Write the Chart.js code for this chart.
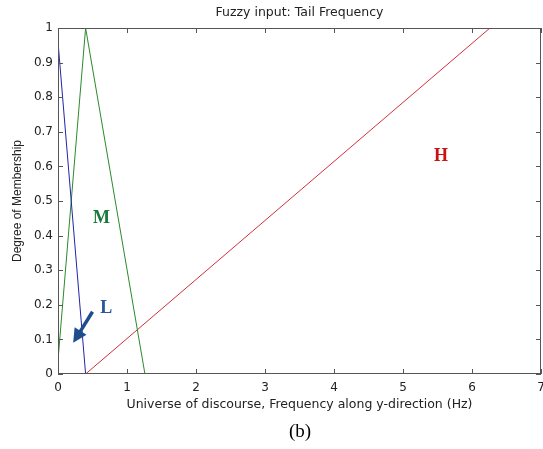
<!DOCTYPE html>
<html>
<head>
<meta charset="utf-8">
<script src="https://cdn.jsdelivr.net/npm/chart.js@4.4.1/dist/chart.umd.min.js"></script>
<style>
  html, body { margin: 0; padding: 0; background: #fff; }
  #wrap { position: relative; width: 543px; height: 449px; }
</style>
</head>
<body>
<div id="wrap"><canvas id="fuzzyChart" width="543" height="449"></canvas></div>
<script>
// membership functions (x in Hz, y = degree)
const lowX = [0, 0.4];
const lowY = [0.96, 0];
const medX = [0, 0.4, 1.26];
const medY = [0.04, 1, 0];
const highX = [0.4, 6.26];
const highY = [0, 1];

const xTicks = [0, 1, 2, 3, 4, 5, 6, 7];
const yTicks = [0, 0.1, 0.2, 0.3, 0.4, 0.5, 0.6, 0.7, 0.8, 0.9, 1];

const toPoints = (xs, ys) => xs.map((x, i) => ({ x: x, y: ys[i] }));

const sans = 'DejaVu Sans, Liberation Sans, sans-serif';

// box + inward ticks + text labels like the matlab figure
const matlabBox = {
  id: 'matlabBox',
  afterDraw(chart) {
    const { ctx, chartArea: a, scales } = chart;
    ctx.save();
    ctx.strokeStyle = '#555';
    ctx.lineWidth = 1;
    ctx.strokeRect(a.left + 0.5, a.top + 0.5, a.right - a.left - 1, a.bottom - a.top - 1);
    ctx.beginPath();
    xTicks.forEach(v => {
      const px = Math.round(scales.x.getPixelForValue(v)) + 0.5;
      ctx.moveTo(px, a.bottom); ctx.lineTo(px, a.bottom - 5);
      ctx.moveTo(px, a.top); ctx.lineTo(px, a.top + 5);
    });
    yTicks.forEach(v => {
      const py = Math.round(scales.y.getPixelForValue(v)) + 0.5;
      ctx.moveTo(a.left, py); ctx.lineTo(a.left + 5, py);
      ctx.moveTo(a.right, py); ctx.lineTo(a.right - 5, py);
    });
    ctx.stroke();

    // title, centred over the axes like matlab does
    ctx.textAlign = 'center';
    ctx.textBaseline = 'middle';
    ctx.fillStyle = '#222';
    ctx.font = '12.5px ' + sans;
    ctx.fillText('Fuzzy input: Tail Frequency', (a.left + a.right) / 2, 13);

    // L M H labels
    ctx.font = 'bold 18px "Liberation Serif", "DejaVu Serif", serif';
    ctx.fillStyle = '#1a7a3a';
    ctx.fillText('M', scales.x.getPixelForValue(0.63), scales.y.getPixelForValue(0.45));
    ctx.fillStyle = '#2b55a0';
    ctx.fillText('L', scales.x.getPixelForValue(0.7), scales.y.getPixelForValue(0.19));
    ctx.fillStyle = '#cc1111';
    ctx.fillText('H', scales.x.getPixelForValue(5.55), scales.y.getPixelForValue(0.63));

    // arrow pointing at the L curve
    const x0 = scales.x.getPixelForValue(0.5), y0 = scales.y.getPixelForValue(0.18);
    const x1 = scales.x.getPixelForValue(0.22), y1 = scales.y.getPixelForValue(0.09);
    const ang = Math.atan2(y1 - y0, x1 - x0);
    ctx.strokeStyle = '#1f4e8c';
    ctx.fillStyle = '#1f4e8c';
    ctx.lineWidth = 3.5;
    ctx.beginPath();
    ctx.moveTo(x0, y0);
    ctx.lineTo(x1 - 10 * Math.cos(ang), y1 - 10 * Math.sin(ang));
    ctx.stroke();
    ctx.beginPath();
    ctx.moveTo(x1, y1);
    ctx.lineTo(x1 - 14 * Math.cos(ang) + 7 * Math.sin(ang), y1 - 14 * Math.sin(ang) - 7 * Math.cos(ang));
    ctx.lineTo(x1 - 14 * Math.cos(ang) - 7 * Math.sin(ang), y1 - 14 * Math.sin(ang) + 7 * Math.cos(ang));
    ctx.closePath();
    ctx.fill();

    // figure caption
    ctx.fillStyle = '#000';
    ctx.font = '19px "Liberation Serif", "DejaVu Serif", serif';
    ctx.fillText('(b)', 300, 432);
    ctx.restore();
  }
};

const lineDs = (label, pts, color) => ({
  label: label,
  data: pts,
  borderColor: color,
  borderWidth: 1,
  pointRadius: 0,
  fill: false,
  tension: 0
});

new Chart(document.getElementById('fuzzyChart'), {
  type: 'line',
  data: {
    datasets: [
      lineDs('L', toPoints(lowX, lowY), '#2424a8'),
      lineDs('M', toPoints(medX, medY), '#2a8a2a'),
      lineDs('H', toPoints(highX, highY), '#d03040')
    ]
  },
  options: {
    responsive: false,
    animation: false,
    layout: { padding: { left: 0, right: 2, top: 28, bottom: 0 } },
    plugins: {
      legend: { display: false },
      tooltip: { enabled: false },
      title: { display: false }
    },
    scales: {
      x: {
        type: 'linear',
        min: 0, max: 7,
        afterBuildTicks: s => { s.ticks = xTicks.map(v => ({ value: v })); },
        afterFit: s => { s.height = 75; s.paddingLeft = 0; s.paddingRight = 0; },
        grid: { display: false, drawTicks: false },
        border: { display: false },
        ticks: {
          color: '#222',
          padding: 7,
          maxRotation: 0,
          font: { family: sans, size: 12 }
        },
        title: {
          display: true,
          text: 'Universe of discourse, Frequency along y-direction (Hz)',
          color: '#222',
          font: { family: sans, size: 12.5 },
          padding: { top: 0, bottom: 37 }
        }
      },
      y: {
        type: 'linear',
        min: 0, max: 1,
        afterBuildTicks: s => { s.ticks = yTicks.map(v => ({ value: v })); },
        afterFit: s => { s.width = 58; s.paddingTop = 0; s.paddingBottom = 0; },
        grid: { display: false, drawTicks: false },
        border: { display: false },
        ticks: {
          color: '#222',
          padding: 5,
          font: { family: sans, size: 12 },
          callback: v => String(v)
        },
        title: {
          display: true,
          text: 'Degree of Membership',
          color: '#222',
          font: { family: 'Liberation Sans, Arial, sans-serif', size: 12 },
          padding: { top: 10, bottom: 0 }
        }
      }
    }
  },
  plugins: [matlabBox]
});
</script>
</body>
</html>
